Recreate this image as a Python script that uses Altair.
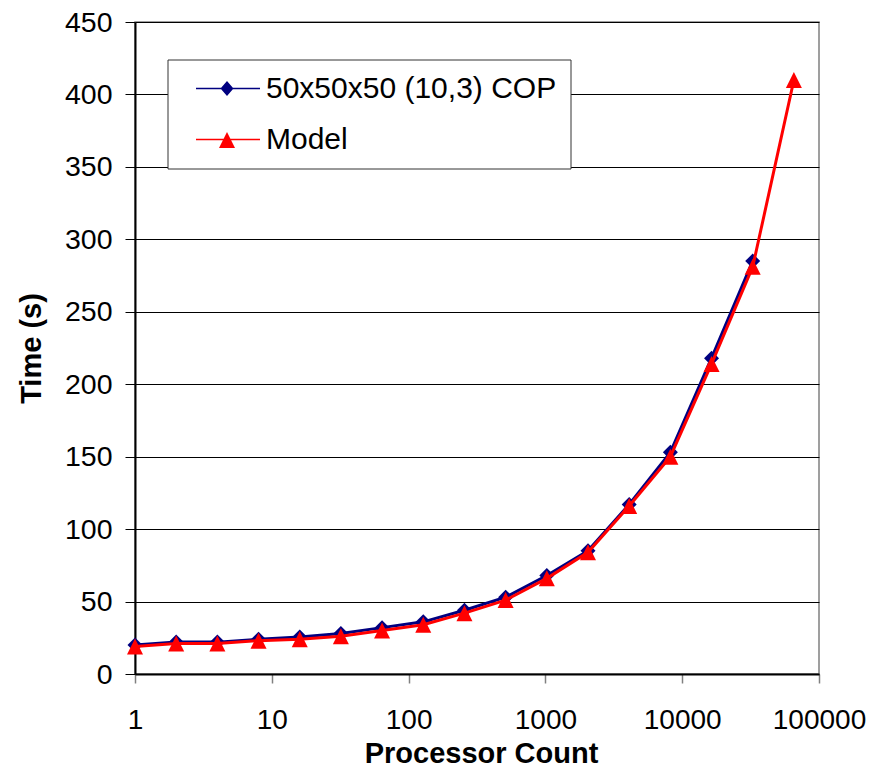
import altair as alt
import pandas as pd

# ---- data ----
procs = [1, 2, 4, 8, 16, 32, 64, 128, 256, 512, 1024, 2048, 4096, 8192, 16384, 32768, 65536]
cop_time = [20, 22, 22, 24, 25.5, 28, 32, 36, 44, 53, 68, 85, 117, 153, 218, 285]
model_time = [19, 21, 21, 23, 24, 26, 30, 34, 42, 51, 66, 84, 116, 150, 214, 281, 410]
series_names = ["50x50x50 (10,3) COP", "Model"]
x_ticks = [1, 10, 100, 1000, 10000, 100000]
y_ticks = [0, 50, 100, 150, 200, 250, 300, 350, 400, 450]

rows = []
for p, t in zip(procs, cop_time):
    rows.append({"procs": p, "time": t, "series": series_names[0]})
for p, t in zip(procs, model_time):
    rows.append({"procs": p, "time": t, "series": series_names[1]})
df = pd.DataFrame(rows)

FONT = "Liberation Sans"
NAVY = "#000080"
RED = "#FF0000"

x_enc = alt.X(
    "procs:Q",
    scale=alt.Scale(type="log", domain=[1, 100000], nice=False),
    axis=alt.Axis(
        values=x_ticks, format="d", grid=False,
        domainColor="black", domainWidth=2,
        tickColor="#808080", tickSize=9, tickWidth=1.5,
        labelFont=FONT, labelFontSize=28, labelColor="black",
        labelBaseline="alphabetic", labelPadding=45,
        labelFlush=False, labelOverlap=False,
        title="Processor Count", titleFont=FONT, titleFontSize=29,
        titleFontWeight="bold", titleColor="black",
        titleX=346, titleY=88, titleBaseline="alphabetic", titleAlign="center",
    ),
)
y_enc = alt.Y(
    "time:Q",
    scale=alt.Scale(domain=[0, 450], nice=False),
    axis=alt.Axis(
        values=y_ticks, grid=True, gridColor="#000000", gridWidth=1,
        domainColor="black", domainWidth=2,
        tickColor="black", tickSize=10, tickWidth=1,
        labelFont=FONT, labelFontSize=28.5, labelColor="black",
        labelPadding=13, labelFlush=False, labelOverlap=False,
        title="Time (s)", titleFont=FONT, titleFontSize=29,
        titleFontWeight="bold", titleColor="black",
        titleAngle=270, titleX=-95, titleY=326,
        titleBaseline="alphabetic", titleAlign="center",
    ),
)

base = alt.Chart(df)
cop = base.transform_filter(alt.datum.series == series_names[0])
mod = base.transform_filter(alt.datum.series == series_names[1])

cop_line = cop.mark_line(color=NAVY, strokeWidth=3).encode(x=x_enc, y=y_enc)
cop_pts = cop.mark_point(filled=True, shape="diamond", size=225, color=NAVY, opacity=1).encode(x=x_enc, y=y_enc)
mod_line = mod.mark_line(color=RED, strokeWidth=3).encode(x=x_enc, y=y_enc)
mod_pts = mod.mark_point(filled=True, shape="M0,-1L1,1L-1,1Z", size=256, color=RED, opacity=1).encode(x=x_enc, y=y_enc)

# legend-only layer (invisible marks, legend symbols drawn as line + marker)
legend_paths = [
    "M-0.05,-0.065H6.35V0.065H-0.05Z M3.05,-0.75L3.7,0L3.05,0.75L2.4,0Z",
    "M-0.05,-0.065H6.35V0.065H-0.05Z M3.05,-0.75L3.85,0.85L2.25,0.85Z",
]
leg = alt.Legend(
    title=None, orient="none", legendX=32.5, legendY=37.5, direction="vertical",
    fillColor="white", strokeColor="#333333", padding=14, rowPadding=21,
    labelFont=FONT, labelFontSize=30, labelColor="black", labelLimit=1000,
    labelOffset=54.5, symbolSize=400, symbolStrokeWidth=0, symbolOpacity=1,
)
legend_layer = base.mark_point(filled=True, opacity=0, size=400).encode(
    x=x_enc, y=y_enc,
    color=alt.Color("series:N", scale=alt.Scale(domain=series_names, range=[NAVY, RED]), legend=leg),
    shape=alt.Shape("series:N", scale=alt.Scale(domain=series_names, range=legend_paths), legend=leg),
)

chart = alt.layer(cop_line, cop_pts, mod_line, mod_pts, legend_layer).properties(
    width=684, height=652,
    autosize=alt.AutoSizeParams(type="none"),
    padding={"left": 135, "top": 22, "right": 63, "bottom": 100},
    background="white",
).configure_view(stroke="#808080", strokeWidth=1.5)

chart.save("out.html", embed_options={"renderer": "svg", "actions": False})
